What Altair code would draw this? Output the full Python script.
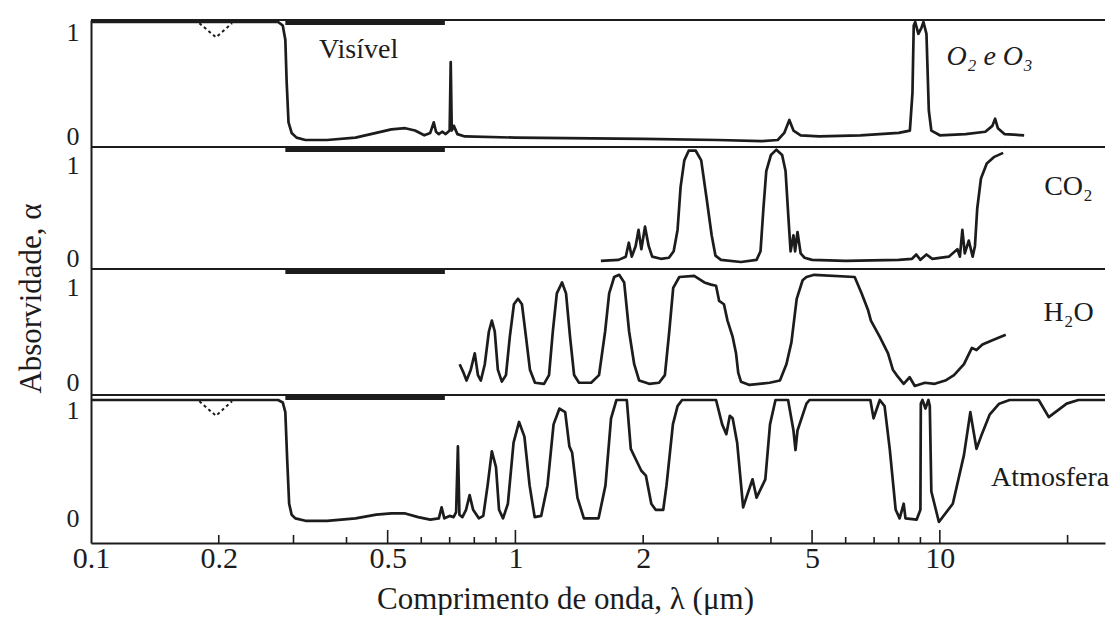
import altair as alt
import pandas as pd

# ---------------- data (wavelength in micrometres, absorptivity) ----------------
o3_lam = [0.1, 0.276, 0.283, 0.287, 0.289, 0.292, 0.297, 0.305, 0.32, 0.36, 0.42, 0.47, 0.51, 0.55, 0.58,
          0.61, 0.63, 0.642, 0.65, 0.66, 0.672, 0.685, 0.700, 0.704, 0.708, 0.716, 0.73, 0.76, 1.0, 2.0,
          3.0, 3.8, 4.15, 4.3, 4.42, 4.52, 4.7, 5.2, 6.5, 8.0, 8.5, 8.62, 8.68, 8.75, 8.9, 9.05, 9.15,
          9.3, 9.42, 9.55, 10.0, 11.5, 12.8, 13.3, 13.5, 13.7, 14.2, 15.8]
o3_alpha = [1.0, 1.0, 0.97, 0.85, 0.5, 0.15, 0.06, 0.02, 0.0, 0.0, 0.02, 0.06, 0.09, 0.10, 0.08,
            0.04, 0.06, 0.15, 0.07, 0.05, 0.07, 0.05, 0.08, 0.66, 0.08, 0.12, 0.05, 0.03, 0.02, 0.01,
            0.0, -0.01, 0.0, 0.06, 0.17, 0.08, 0.04, 0.03, 0.04, 0.06, 0.08, 0.4, 0.97, 1.0, 0.9, 0.95, 1.0,
            0.9, 0.25, 0.08, 0.04, 0.05, 0.07, 0.12, 0.18, 0.1, 0.05, 0.04]

co2_lam = [1.59, 1.75, 1.82, 1.85, 1.88, 1.92, 1.95, 1.98, 2.02, 2.06, 2.10, 2.2, 2.3, 2.36, 2.41,
           2.45, 2.5, 2.56, 2.66, 2.74, 2.82, 2.9, 2.96, 3.05, 3.4, 3.7, 3.78, 3.84, 3.9, 4.0,
           4.12, 4.25, 4.33, 4.4, 4.45, 4.52, 4.56, 4.62, 4.7, 4.8, 5.0, 6.0, 8.0, 8.6, 8.8,
           9.0, 9.3, 9.6, 10.5, 11.0, 11.15, 11.3, 11.45, 11.7, 11.95, 12.1, 12.25, 12.5, 12.9, 13.4, 14.1]
co2_alpha = [0.01, 0.02, 0.05, 0.18, 0.05, 0.15, 0.3, 0.12, 0.33, 0.15, 0.05, 0.03, 0.04, 0.1, 0.3,
             0.7, 0.95, 1.04, 1.04, 0.95, 0.6, 0.25, 0.06, 0.02, 0.0, 0.02, 0.1, 0.5, 0.85, 1.0,
             1.05, 1.0, 0.85, 0.4, 0.1, 0.25, 0.1, 0.28, 0.08, 0.04, 0.02, 0.01, 0.02, 0.03, 0.07,
             0.02, 0.07, 0.03, 0.05, 0.12, 0.05, 0.3, 0.08, 0.2, 0.05, 0.15, 0.5, 0.78, 0.92, 0.98, 1.02]

h2o_lam = [0.739, 0.755, 0.767, 0.785, 0.802, 0.816, 0.829, 0.847, 0.866, 0.880, 0.894, 0.909, 0.929,
           0.950, 0.970, 0.992, 1.014, 1.036, 1.059, 1.082, 1.112, 1.168, 1.20, 1.225, 1.252, 1.288,
           1.316, 1.345, 1.375, 1.412, 1.508, 1.574, 1.627, 1.663, 1.709, 1.756, 1.804, 1.853, 1.905,
           1.957, 2.066, 2.18, 2.25, 2.304, 2.354, 2.433, 2.638, 2.787, 2.89, 2.97, 3.02, 3.10, 3.16,
           3.25, 3.31, 3.35, 3.40, 3.56, 3.97, 4.2, 4.35, 4.47, 4.6, 4.75, 4.85, 5.06, 6.30, 6.54,
           6.77, 6.88, 7.22, 7.55, 7.75, 7.91, 8.22, 8.49, 8.73, 9.22, 9.73, 10.3, 10.8, 11.4, 11.9,
           12.2, 12.6, 13.3, 14.3]
h2o_alpha = [0.2, 0.12, 0.05, 0.15, 0.3, 0.1, 0.05, 0.2, 0.5, 0.6, 0.5, 0.15, 0.04,
             0.1, 0.45, 0.75, 0.8, 0.75, 0.45, 0.15, 0.03, 0.02, 0.1, 0.5, 0.85, 0.95,
             0.85, 0.45, 0.1, 0.03, 0.03, 0.1, 0.5, 0.85, 1.0, 1.02, 0.95, 0.5, 0.2,
             0.05, 0.02, 0.03, 0.1, 0.5, 0.9, 1.0, 1.01, 0.95, 0.93, 0.92, 0.78, 0.75, 0.6,
             0.45, 0.3, 0.12, 0.04, 0.01, 0.03, 0.05, 0.2, 0.4, 0.8, 0.97, 1.0, 1.02, 1.0, 0.85,
             0.7, 0.6, 0.45, 0.3, 0.15, 0.1, 0.02, 0.08, 0.0, 0.03, 0.02, 0.05, 0.1, 0.2, 0.35,
             0.33, 0.38, 0.42, 0.47]

atm_lam = [0.1, 0.276, 0.283, 0.287, 0.290, 0.293, 0.297, 0.303, 0.32, 0.36, 0.42, 0.47, 0.51, 0.55,
           0.59, 0.63, 0.66, 0.67, 0.68, 0.70, 0.715, 0.725, 0.732, 0.738, 0.75, 0.765, 0.78, 0.795,
           0.82, 0.84, 0.86, 0.88, 0.90, 0.915, 0.935, 0.96, 0.99, 1.02, 1.05, 1.08, 1.11, 1.15, 1.19,
           1.23, 1.27, 1.31, 1.34, 1.36, 1.40, 1.45, 1.57, 1.63, 1.68, 1.73, 1.83, 1.87, 1.93, 1.98,
           2.03, 2.09, 2.14, 2.23, 2.27, 2.35, 2.41, 2.47, 2.97, 3.07, 3.14, 3.2, 3.25, 3.33, 3.44,
           3.5, 3.62, 3.7, 3.88, 3.98, 4.1, 4.39, 4.52, 4.57, 4.62, 4.85, 4.93, 6.86, 6.98, 7.22,
           7.41, 7.62, 7.87, 8.04, 8.22, 8.3, 8.82, 9.0, 9.02, 9.1, 9.25, 9.4, 9.47, 9.55, 9.95,
           10.73, 11.4, 11.8, 12.2, 12.5, 13.1, 13.8, 14.6, 17.1, 18.06, 19.9, 21.2, 24.5]
atm_alpha = [1.0, 1.0, 0.98, 0.9, 0.5, 0.15, 0.06, 0.03, 0.01, 0.01, 0.03, 0.06, 0.07, 0.07,
             0.04, 0.02, 0.03, 0.12, 0.03, 0.05, 0.04, 0.08, 0.62, 0.06, 0.04, 0.1, 0.22, 0.1,
             0.03, 0.05, 0.3, 0.58, 0.45, 0.1, 0.03, 0.15, 0.65, 0.82, 0.7, 0.3, 0.04, 0.05, 0.3,
             0.8, 0.93, 0.9, 0.62, 0.57, 0.2, 0.03, 0.03, 0.3, 0.85, 1.0, 1.0, 0.6, 0.5, 0.42,
             0.38, 0.15, 0.1, 0.1, 0.3, 0.8, 0.95, 1.0, 1.0, 0.8, 0.72, 0.87, 0.85, 0.65, 0.12,
             0.2, 0.35, 0.2, 0.35, 0.8, 1.0, 1.0, 0.75, 0.59, 0.75, 0.97, 1.0, 1.0, 0.85, 1.0,
             0.95, 0.6, 0.1, 0.03, 0.15, 0.03, 0.02, 0.1, 0.97, 1.0, 0.93, 1.0, 0.95, 0.25, 0.0,
             0.15, 0.55, 0.9, 0.6, 0.7, 0.88, 0.97, 1.0, 1.0, 0.86, 0.97, 1.0, 1.0]

# dotted dip near 0.2 um (panels O2/O3 and atmosphere)
dip_lam = [0.18, 0.197, 0.215]
dip_alpha = [0.99, 0.87, 0.99]

# visible band marker
vis_lam = [0.287, 0.682]

# x axis tick values
label_ticks = [0.1, 0.2, 0.5, 1, 2, 5, 10]
long_ticks = [0.5, 1, 5, 10]
mid_ticks = [0.2, 0.3, 2, 20]
short_ticks = [0.4, 0.6, 0.7, 0.8, 0.9, 3, 4, 6, 7, 8, 9]

# panel annotations
ann_text = ["Visível", "O₂ e O₃", "CO₂", "H₂O", "Atmosfera"]
ann_lam = [0.427, 13.1, 20.1, 20.1, 18.2]
ann_alpha = [0.76, 0.70, 0.70, 0.67, 0.36]
ann_panel = ["O3", "O3", "CO2", "H2O", "ATM"]
ann_italic = [False, True, False, False, False]

# ---------------- layout of the stacked panels ----------------
PANEL = {"O3": (403, 118), "CO2": (281, 107), "H2O": (157, 109), "ATM": (21, 122)}  # base, unit
TOPS = {"O3": 523, "CO2": 396, "H2O": 274, "ATM": 148}
BAR = 5
INK = "#1c1c1c"
SERIF = "Liberation Serif"
W, H = 1014, 523


def yv(panel, a):
    base, unit = PANEL[panel]
    return base + a * unit


frames = []
for name, lam, al in [("O3", o3_lam, o3_alpha), ("CO2", co2_lam, co2_alpha),
                      ("H2O", h2o_lam, h2o_alpha), ("ATM", atm_lam, atm_alpha)]:
    df = pd.DataFrame({"lam": lam, "alpha": al})
    df["panel"] = name
    df["i"] = range(len(df))
    df["y"] = [yv(name, a) for a in al]
    frames.append(df)
curves = pd.concat(frames, ignore_index=True)

dips = []
for name in ["O3", "ATM"]:
    d = pd.DataFrame({"lam": dip_lam, "alpha": dip_alpha})
    d["panel"] = name
    d["i"] = range(len(d))
    d["y"] = [yv(name, a) for a in dip_alpha]
    dips.append(d)
dips = pd.concat(dips, ignore_index=True)

bars = pd.DataFrame({"panel": list(TOPS.keys())})
bars["lam"] = vis_lam[0]
bars["lam1"] = vis_lam[1]
bars["y"] = [TOPS[p] for p in bars["panel"]]
bars["y1"] = bars["y"] - BAR

seps = pd.DataFrame({"y": list(TOPS.values())})

ticks = pd.DataFrame({"lam": long_ticks + mid_ticks + short_ticks,
                      "len": [13] * len(long_ticks) + [8] * len(mid_ticks) + [6] * len(short_ticks)})
ticks["y"] = 0

ann = pd.DataFrame({"text": ann_text, "lam": ann_lam, "alpha": ann_alpha,
                    "panel": ann_panel, "italic": ann_italic})
ann["y"] = [yv(p, a) for p, a in zip(ann["panel"], ann["alpha"])]

y_vals = []
zero_vals = []
for p in ["ATM", "H2O", "CO2", "O3"]:
    y_vals += [yv(p, 0), yv(p, 1)]
    zero_vals.append(yv(p, 0))

xs = alt.Scale(type="log", domain=[0.1, 24.5], nice=False)
ys = alt.Scale(domain=[0, H], nice=False, zero=False)

x_axis = alt.Axis(values=label_ticks, format="~g", ticks=False, tickSize=0, grid=False,
                  labelFont=SERIF, labelFontSize=30, labelColor=INK, labelPadding=0,
                  domainColor=INK, domainWidth=2, labelFlush=False, labelOverlap=False,
                  title="Comprimento de onda, λ (μm)", titleFont=SERIF, titleFontSize=31,
                  titleFontWeight="normal", titleColor=INK, titleX=474, titleY=65,
                  titleAlign="center", titleBaseline="alphabetic")
zero_str = ",".join(str(v) for v in zero_vals)
is_zero = f"indexof([{zero_str}], datum.value) >= 0"
y_axis = alt.Axis(values=y_vals, labelExpr=f"{is_zero} ? '0' : '1'",
                  labelOffset=alt.ExprRef(expr=f"{is_zero} ? -4 : 10"),
                  ticks=False, tickSize=0, grid=False, labelFont=SERIF, labelFontSize=26,
                  labelColor=INK, labelPadding=12, labelOverlap=False, labelBound=False,
                  domainColor=INK, domainWidth=2,
                  title="Absorvidade, α", titleFont=SERIF, titleFontSize=31, titleFontWeight="normal",
                  titleColor=INK, titleX=-60, titleY=278, titleAlign="center",
                  titleBaseline="middle", titleAngle=270)

X = alt.X("lam:Q", scale=xs, axis=x_axis)
Y = alt.Y("y:Q", scale=ys, axis=y_axis)

lines = alt.Chart(curves).mark_line(color=INK, strokeWidth=2.7, strokeJoin="round").encode(
    x=X, y=Y, detail="panel:N", order="i:Q",
)

dip_lines = alt.Chart(dips).mark_line(color=INK, strokeWidth=2, strokeDash=[3, 3]).encode(
    x=X, y=Y, detail="panel:N", order="i:Q",
)

sep_rules = alt.Chart(seps).mark_rule(color=INK, strokeWidth=2).encode(y=Y)

vis_bars = alt.Chart(bars).mark_rect(color=INK).encode(x=X, x2="lam1:Q", y=Y, y2="y1:Q")

tick_rules = alt.Chart(ticks).mark_rule(color=INK, strokeWidth=1.6).encode(x=X, y=Y, y2="len:Q")

ann_plain = alt.Chart(ann[~ann["italic"]]).mark_text(
    font=SERIF, fontSize=28, color=INK, align="center", baseline="middle").encode(
    x=X, y=Y, text="text:N")

ann_ital = alt.Chart(ann[ann["italic"]]).mark_text(
    font=SERIF, fontSize=28, fontStyle="italic", color=INK, align="center", baseline="middle").encode(
    x=X, y=Y, text="text:N")

chart = alt.layer(lines, dip_lines, sep_rules, vis_bars, tick_rules, ann_plain, ann_ital).properties(
    width=W, height=H,
    autosize=alt.AutoSizeParams(type="none"),
    padding={"left": 83, "top": 12, "right": 5, "bottom": 72},
    background="white",
).configure_view(stroke=None)

chart.save("out.html", embed_options={"renderer": "svg", "actions": False})
